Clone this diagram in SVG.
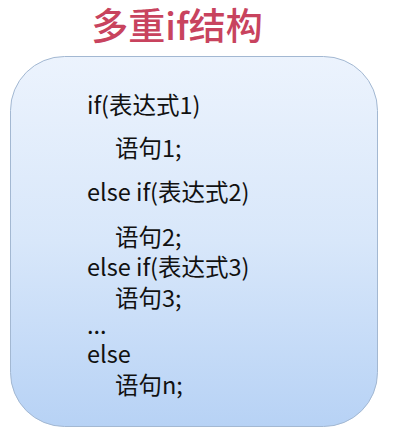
<svg xmlns="http://www.w3.org/2000/svg" width="412" height="428" viewBox="0 0 412 428">
<defs>
<linearGradient id="bg" x1="0" y1="0" x2="0" y2="1">
<stop offset="0" stop-color="#ecf3fd"/>
<stop offset="0.5" stop-color="#d8e7fa"/>
<stop offset="1" stop-color="#b7d2f5"/>
</linearGradient>
<style>
.t{font-family:"Noto Sans CJK SC","Liberation Sans",sans-serif;font-size:23.5px;fill:#111}
.title{font-family:"Noto Sans CJK SC","Liberation Sans",sans-serif;font-size:37px;fill:#c8435e;font-weight:500}
</style>
</defs>
<rect width="412" height="428" fill="#ffffff"/>
<g id="title"><text class="title" x="177" y="40" text-anchor="middle">多重if结构</text></g>
<g id="box">
<rect x="10.5" y="56.5" width="367" height="370" rx="54" ry="54" fill="url(#bg)" stroke="#a3b8d2" stroke-width="1"/>
<text class="t" x="87" y="114">if(表达式1)</text>
<text class="t" x="115" y="157">语句1;</text>
<text class="t" x="87" y="201">else if(表达式2)</text>
<text class="t" x="115" y="246">语句2;</text>
<text class="t" x="87" y="276">else if(表达式3)</text>
<text class="t" x="115" y="307">语句3;</text>
<text class="t" x="87" y="334">...</text>
<text class="t" x="87" y="363">else</text>
<text class="t" x="115" y="394">语句n;</text>
</g>
<g id="connectors"/>
</svg>
